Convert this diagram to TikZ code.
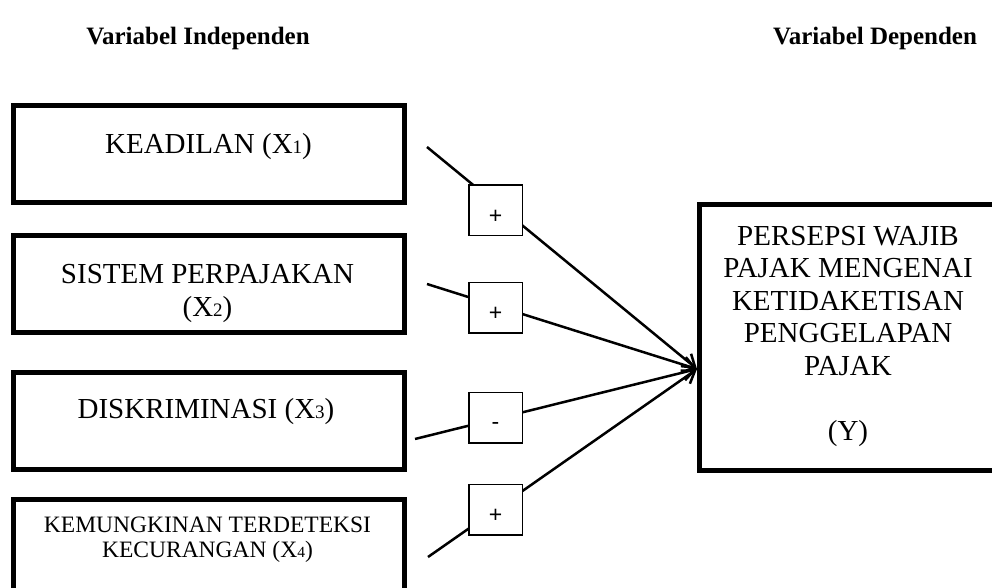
\documentclass[tikz,border=0pt]{standalone}
\usepackage{fontspec}
\setmainfont{Liberation Serif}
\newfontfamily\serifmain{Liberation Serif}
\newfontfamily\signfont{Liberation Sans}
\usetikzlibrary{arrows.meta}
\newcommand\smallidx[2]{{\fontsize{#1}{#1}\selectfont #2}}
\begin{document}
\begin{tikzpicture}[x=1pt,y=-1pt,
  varbox/.style={draw, line width=5pt, minimum width=391pt, minimum height=97pt, inner sep=0pt},
  ybox/.style={draw, line width=5pt, minimum width=295pt, minimum height=266pt, inner sep=0pt},
  signbox/.style={draw, line width=1.5pt, fill=white, minimum width=53.5pt, minimum height=50.5pt, inner sep=0pt, font=\signfont\fontsize{23}{23}\selectfont},
  btext/.style={inner sep=0pt, anchor=base, align=center, font=\serifmain\fontsize{29}{32.5}\selectfont},
  stext/.style={inner sep=0pt, anchor=base, align=center, font=\serifmain\fontsize{23.5}{25}\selectfont},
  ttext/.style={inner sep=0pt, anchor=base, font=\serifmain\bfseries\fontsize{25}{30}\selectfont},
  link/.style={line width=2.5pt, -{Straight Barb[length=12pt,width=16pt]}}
]
\useasboundingbox (0,0) rectangle (992,587);
\clip (0,0) rectangle (992,587);

% titles
\node[ttext] (ti) at (198,44) {Variabel Independen};
\node[ttext] (td) at (875,44) {Variabel Dependen};

% independent variable boxes
\node[varbox] (x1) at (209,154) {};
\node[varbox] (x2) at (209,284) {};
\node[varbox] (x3) at (209,421) {};
\node[varbox] (x4) at (209,548) {};

\node[btext] (t1) at (208.5,153) {KEADILAN (X\smallidx{19}{1})};
\node[btext] (t2) at (207.5,316) {SISTEM PERPAJAKAN\\(X\smallidx{19}{2})};
\node[btext] (t3) at (206,418) {DISKRIMINASI (X\smallidx{19}{3})};
\node[stext] (t4) at (207.5,557) {KEMUNGKINAN TERDETEKSI\\KECURANGAN (X\smallidx{15.5}{4})};

% dependent variable box
\node[ybox] (y) at (847,337.5) {};
\node[btext] (ty) at (848,440) {PERSEPSI WAJIB\\PAJAK MENGENAI\\KETIDAKETISAN\\PENGGELAPAN\\PAJAK\\[32.5pt](Y)};

% connector end points
\coordinate (s1) at (427,147);
\coordinate (s2) at (427,284);
\coordinate (s3) at (415,439);
\coordinate (s4) at (428,557);
\coordinate (yin) at ([yshift=-31.5pt]y.west);

\draw[link] (s1) -- (yin);
\draw[link] (s2) -- (yin);
\draw[link] (s3) -- (yin);
\draw[link] (s4) -- (yin);

% sign boxes
\node[signbox] (p1) at (495.5,210) {\raisebox{-13.3pt}[0pt][0pt]{+}};
\node[signbox] (p2) at (495.5,307.5) {\raisebox{-13.3pt}[0pt][0pt]{+}};
\node[signbox] (p3) at (495.5,417.5) {\raisebox{-11.8pt}[0pt][0pt]{-}};
\node[signbox] (p4) at (495.5,509.5) {\raisebox{-13.3pt}[0pt][0pt]{+}};
\end{tikzpicture}
\end{document}
